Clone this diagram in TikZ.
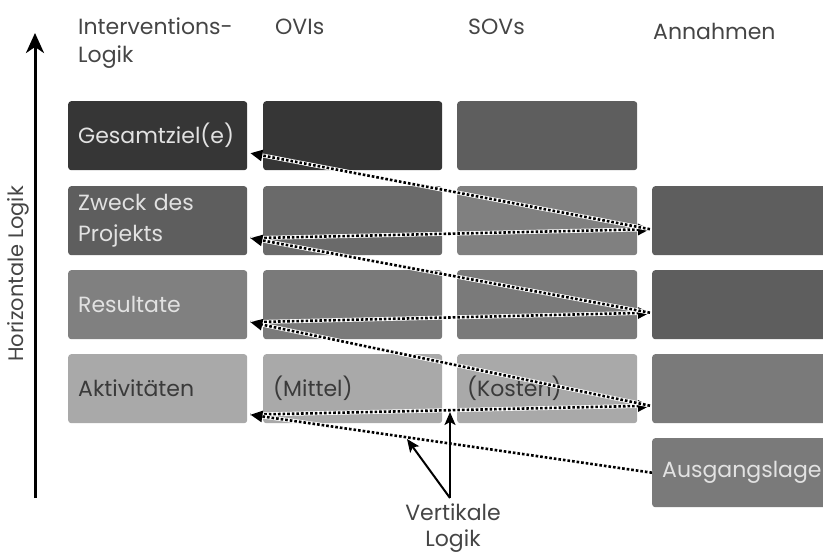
\documentclass[tikz,border=0pt]{standalone}
\usepackage{fontspec}
\setmainfont{Poppins}
\usetikzlibrary{calc,arrows.meta}
\definecolor{tonA}{HTML}{363636}
\definecolor{tonB}{HTML}{5E5E5E}
\definecolor{tonC}{HTML}{6A6A6A}
\definecolor{tonD}{HTML}{808080}
\definecolor{tonE}{HTML}{7A7A7A}
\definecolor{tonF}{HTML}{A9A9A9}
\definecolor{hell}{HTML}{E2E2E2}
\definecolor{dunkel}{HTML}{3A3A3A}
\definecolor{kopf}{HTML}{454545}
\tikzset{
	feld/.style={rounded corners=3pt, anchor=north west, minimum height=69pt, text width=159pt,
		inner xsep=10pt, inner ysep=0pt, align=left, font=\fontsize{22}{31}\selectfont},
	kopftext/.style={anchor=base west, text=kopf, font=\fontsize{22}{28}\selectfont, inner sep=0pt},
	punkte/.style={line width=2.6pt, dash pattern=on 2.6pt off 2pt, -{Triangle[length=12pt,width=11pt]},
		preaction={draw=white, line width=4pt, solid, -}},
	logik/.style={line width=2pt, -{Stealth[length=13pt,width=11pt,inset=3pt]}},
}

\begin{document}
\begin{tikzpicture}[x=1pt,y=-1pt]
	\useasboundingbox (0,0) rectangle (823,556);
	% Spaltenkoepfe
	\node[kopftext, align=left] (il) at (78,63) {Interventions-\\Logik};
	\node[kopftext] (ovi) at (275,35) {OVIs};
	\node[kopftext] (sov) at (468,35) {SOVs};
	\node[kopftext] (ann) at (653,40) {Annahmen};
	%
	\node[feld, fill=tonA, text=hell] (ziel) at (68,101) {Gesamtziel(e)};
	\node[feld, fill=tonA] (ovi1) at (263,101) {};
	\node[feld, fill=tonB, text width=160pt] (sov1) at (457,101) {};
	%
	\node[feld, fill=tonB, text=hell] (zweck) at (68,186) {Zweck des\\Projekts};
	\node[feld, fill=tonC] (ovi2) at (263,186) {};
	\node[feld, fill=tonD, text width=160pt] (sov2) at (457,186) {};
	\node[feld, fill=tonB, text width=160pt] (ann2) at (652,186) {};
	%
	\node[feld, fill=tonD, text=hell] (res) at (68,270) {Resultate};
	\node[feld, fill=tonE] (ovi3) at (263,270) {};
	\node[feld, fill=tonE, text width=160pt] (sov3) at (457,270) {};
	\node[feld, fill=tonB, text width=160pt] (ann3) at (652,270) {};
	%
	\node[feld, fill=tonF, text=dunkel] (akt) at (68,354) {Aktivitäten};
	\node[feld, fill=tonF, text=dunkel] (mittel) at (263,354) {(Mittel)};
	\node[feld, fill=tonF, text=dunkel, text width=160pt] (kosten) at (457,354) {(Kosten)};
	\node[feld, fill=tonE, text width=160pt] (ann4) at (652,354) {};
	%
	\node[feld, fill=tonE, text=hell, text width=160pt] (ausg) at (652,438) {Ausgangslage};
	%
	\coordinate (a1) at ($(ziel.east)+(3,17.5)$);
	\coordinate (b1) at ($(zweck.east)+(3,17.5)$);
	\coordinate (b2) at ($(ann2.west)+(-2,8.5)$);
	\coordinate (c1) at ($(res.east)+(3,17.5)$);
	\coordinate (c2) at ($(ann3.west)+(-2,8)$);
	\coordinate (d1) at ($(akt.east)+(3,26)$);
	\coordinate (d2) at ($(ann4.west)+(-2,17)$);
	%
	\draw[punkte] (b1) -- (b2);
	\draw[punkte] (b2) -- (a1);
	\draw[punkte] (c1) -- (c2);
	\draw[punkte] (c2) -- (b1);
	\draw[punkte] (d1) -- (d2);
	\draw[punkte] (d2) -- (c1);
	\draw[punkte] (ausg.west) -- (d1);
	%
	\node[text=kopf, align=center, inner sep=0pt, font=\fontsize{22}{26}\selectfont] (vlogik) at (453,528) {Vertikale\\Logik};
	\coordinate (vfuss) at (450,498);
	\coordinate (voben) at (450,412);
	\coordinate (vlinks) at (407,439);
	\draw[logik] (vfuss) -- (voben);
	\draw[logik] (vfuss) -- (vlinks);
	%
	\coordinate (hfuss) at (35,498);
	\coordinate (hoben) at (35,33);
	\draw[line width=3pt, -{Stealth[length=20pt,width=18pt,inset=6pt]}] (hfuss) -- (hoben);
	\node[text=kopf, rotate=90, font=\fontsize{21}{24}\selectfont] (hlogik) at (18,274) {Horizontale Logik};
\end{tikzpicture}
\end{document}
